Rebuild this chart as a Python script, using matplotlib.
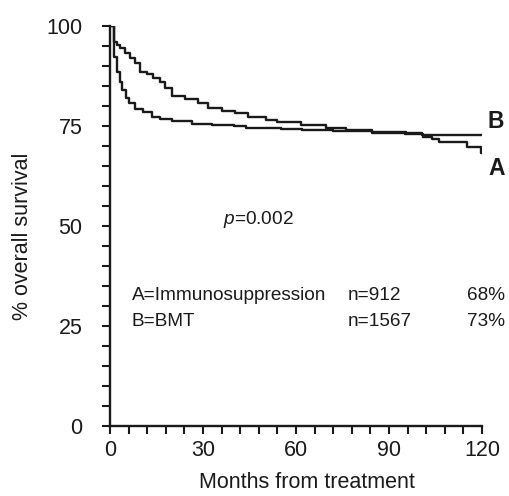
import matplotlib
matplotlib.use("Agg")
import matplotlib.pyplot as plt
from matplotlib.ticker import MultipleLocator

plt.rcParams['font.family'] = ['Liberation Sans', 'DejaVu Sans']
plt.rcParams['mathtext.fontset'] = 'custom'
plt.rcParams['mathtext.it'] = 'Liberation Sans:italic'
plt.rcParams['mathtext.rm'] = 'Liberation Sans'

# Kaplan-Meier steps (months, % survival)
months_a = [0, 1.3, 2.15, 3.2, 4.0, 5.0, 6.1, 8.1, 10.8, 13.4, 16.1, 19.9, 26.3,
            32.8, 40, 44, 55, 62, 72, 84.6, 95, 101, 104, 106, 115, 119.8, 120]
surv_a = [100, 92.3, 88.6, 86.1, 84.0, 81.9, 80.7, 79.3, 78.6, 77.2, 76.7, 76.25, 75.5,
          75.2, 75.0, 74.6, 74.2, 73.9, 73.7, 73.3, 72.9, 72.2, 71.7, 71.1, 69.7, 68.2, 68.2]

months_b = [0, 1.3, 2.15, 3.2, 4.8, 6.45, 8.1, 9.7, 11.8, 14, 16, 17.7, 19.9, 24.2,
            28.5, 31.7, 36, 40.3, 44.6, 50.3, 54, 61.6, 69.6, 76, 84.6, 95.4, 100.8, 120]
surv_b = [100, 96.1, 95.2, 94.4, 93.2, 91.9, 90.7, 88.6, 88.0, 86.9, 86.1, 84.4, 82.5, 81.7,
          80.8, 79.4, 78.8, 78.2, 77.3, 76.5, 75.9, 75.25, 74.4, 74.0, 73.6, 73.2, 72.75, 72.75]

group_names = ["A=Immunosuppression", "B=BMT"]
group_n = ["n=912", "n=1567"]
group_pct = ["68%", "73%"]

x_ticks = [0, 30, 60, 90, 120]
y_ticks = [0, 25, 50, 75, 100]

ink = "#1a1a1a"

fig = plt.figure(figsize=(5.09, 4.96), dpi=100)
ax = fig.add_axes([110 / 509, 70 / 496, 372 / 509, 400 / 496])

ax.plot(months_a, surv_a, drawstyle='steps-post', color=ink, lw=1.7)
ax.plot(months_b, surv_b, drawstyle='steps-post', color=ink, lw=1.7)

ax.set_xlim(0, 120)
ax.set_ylim(0, 100)
ax.set_xticks(x_ticks)
ax.set_yticks(y_ticks)
ax.xaxis.set_minor_locator(MultipleLocator(6))
ax.yaxis.set_minor_locator(MultipleLocator(5))
for s in ['top', 'right']:
    ax.spines[s].set_visible(False)
for s in ['left', 'bottom']:
    ax.spines[s].set_linewidth(1.7)
    ax.spines[s].set_color(ink)
ax.tick_params(which='both', direction='out', length=5.8, width=1.5, color=ink)
ax.tick_params(axis='x', which='major', labelsize=15.5, pad=4, labelcolor=ink)
ax.tick_params(axis='y', which='major', labelsize=15.5, pad=14, labelcolor=ink)

fig.text(23 / 509, 1 - 236 / 496, "% overall survival", rotation=90,
         ha='center', va='center', fontsize=15.5, color=ink)
fig.text(307 / 509, 1 - 483 / 496, "Months from treatment",
         ha='center', va='center', fontsize=15.5, color=ink)

ax.text(0.304, 0.515, r"$p$=0.002", transform=ax.transAxes,
        ha='left', va='center', fontsize=13.7, color=ink)

row_y = [0.325, 0.262]
for i in range(2):
    ax.text(0.058, row_y[i], group_names[i], transform=ax.transAxes,
            ha='left', va='center', fontsize=13.7, color=ink)
    ax.text(0.640, row_y[i], group_n[i], transform=ax.transAxes,
            ha='left', va='center', fontsize=13.7, color=ink)
    ax.text(0.959, row_y[i], group_pct[i], transform=ax.transAxes,
            ha='left', va='center', fontsize=13.7, color=ink)

ax.text(1.016, 0.7625, "B", transform=ax.transAxes, ha='left', va='center',
        fontsize=16.5, fontweight='bold', color=ink, clip_on=False)
ax.text(1.016, 0.645, "A", transform=ax.transAxes, ha='left', va='center',
        fontsize=16.5, fontweight='bold', color=ink, clip_on=False)

fig.savefig("out.png", dpi=100)
